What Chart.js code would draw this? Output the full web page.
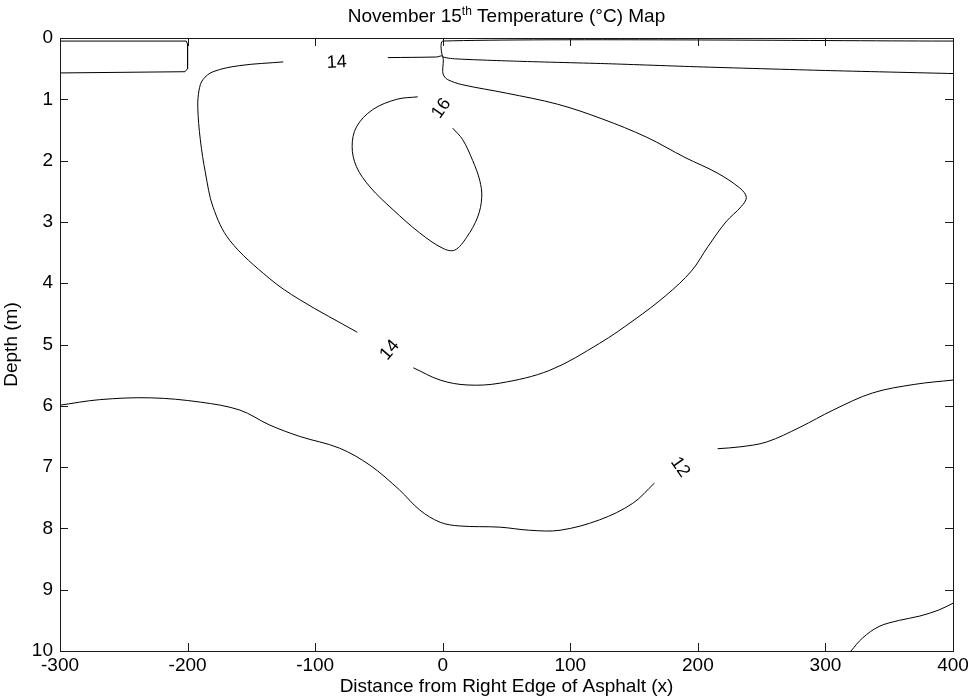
<!DOCTYPE html>
<html>
<head>
<meta charset="utf-8">
<title>November 15th Temperature Map</title>
<script src="https://cdn.jsdelivr.net/npm/chart.js@4.4.1/dist/chart.umd.min.js"></script>
<style>
  html, body { margin: 0; padding: 0; background: #fff; }
  canvas { display: block; }
</style>
</head>
<body>
<canvas id="chart" width="972" height="698"></canvas>
<script>
// contour lines as [distance, depth] pairs
const surfaceBoxLeft = [[-300, 0.05], [-201, 0.05], [-200, 0.1], [-200, 0.5], [-202, 0.55], [-300, 0.57]];
const surfaceBandRight = [[400, 0.05], [0, 0.05], [0, 0.3], [10, 0.34], [60, 0.38], [130, 0.42], [200, 0.47], [300, 0.53], [400, 0.58]];
const iso14Left = [[-125, 0.39], [-159, 0.45], [-180, 0.55], [-188, 0.68], [-191, 0.85], [-192, 1.13], [-190, 1.66],
  [-186, 2.2], [-180, 2.76], [-167, 3.3], [-136, 3.92], [-112, 4.27], [-67, 4.8]];
const iso14Right = [[-23, 5.38], [-2, 5.58], [19, 5.66], [45, 5.63], [84, 5.42], [123, 4.98], [150, 4.6], [175, 4.2],
  [195, 3.8], [208, 3.4], [222, 3.0], [234, 2.75], [238, 2.6], [233, 2.45], [215, 2.2], [190, 1.95], [160, 1.62],
  [125, 1.32], [90, 1.08], [50, 0.9], [15, 0.76], [4, 0.68], [1, 0.62], [0, 0.55], [0, 0.3], [-5, 0.31], [-43, 0.32]];
const iso16 = [[-19.6, 0.96], [-36, 1.0], [-55, 1.17], [-67.6, 1.45], [-71, 1.77], [-67.6, 2.1], [-57, 2.43], [-39, 2.8],
  [-18, 3.18], [0, 3.43], [9.4, 3.46], [18.8, 3.25], [27.4, 2.92], [30.6, 2.6], [29, 2.32], [23.5, 2.0], [15.7, 1.66], [7.8, 1.47]];
const iso12Left = [[-300, 5.99], [-269, 5.9], [-229, 5.87], [-190, 5.94], [-159, 6.07], [-136, 6.31], [-112, 6.5],
  [-81, 6.69], [-57, 6.97], [-34, 7.37], [-18, 7.7], [-2, 7.9], [13, 7.96], [45, 7.98], [68, 8.03], [92, 8.03],
  [123, 7.86], [149, 7.59], [166, 7.26]];
const iso12Right = [[215.5, 6.7], [233, 6.67], [254, 6.59], [280, 6.35], [306, 6.07], [337, 5.79], [370, 5.65], [400, 5.58]];
const iso10 = [[320, 10], [329, 9.79], [342, 9.6], [358, 9.5], [374, 9.43], [389, 9.33], [400, 9.22]];

// inline contour labels: text, distance, depth, rotation (deg)
const contourLabels = [
  ["14", -83, 0.4, -3],
  ["16", -1, 1.15, -55],
  ["14", -41.5, 5.09, -50],
  ["12", 186, 7.0, 55]
];

const xTicks = [-300, -200, -100, 0, 100, 200, 300, 400];
const yTicks = [0, 1, 2, 3, 4, 5, 6, 7, 8, 9, 10];

const fontFamily = "'Liberation Sans', Arial, Helvetica, sans-serif";
const textSize = 19;

function line(points, tension) {
  return {
    data: points.map(p => ({ x: p[0], y: p[1] })),
    showLine: true,
    borderColor: "#000",
    borderWidth: 1,
    pointRadius: 0,
    tension: tension,
    fill: false
  };
}

const datasets = [
  line(surfaceBoxLeft, 0),
  line(surfaceBandRight, 0.2),
  line(iso14Left, 0.35),
  line(iso14Right, 0.35),
  line(iso16, 0.35),
  line(iso12Left, 0.35),
  line(iso12Right, 0.35),
  line(iso10, 0.35)
];

// matlab style box with inward ticks
const boxTicks = {
  id: "boxTicks",
  afterDraw(chart) {
    const { ctx, chartArea: a, scales: { x, y } } = chart;
    ctx.save();
    ctx.strokeStyle = "#1a1a1a";
    ctx.lineWidth = 1;
    ctx.beginPath();
    xTicks.forEach(v => {
      const px = Math.round(x.getPixelForValue(v)) + 0.5;
      ctx.moveTo(px, a.bottom); ctx.lineTo(px, a.bottom - 8);
      ctx.moveTo(px, a.top); ctx.lineTo(px, a.top + 8);
    });
    yTicks.forEach(v => {
      const py = Math.round(y.getPixelForValue(v)) + 0.5;
      ctx.moveTo(a.left, py); ctx.lineTo(a.left + 8, py);
      ctx.moveTo(a.right, py); ctx.lineTo(a.right - 8, py);
    });
    ctx.stroke();
    ctx.strokeRect(Math.round(a.left) + 0.5, Math.round(a.top) + 0.5, Math.round(a.right - a.left), Math.round(a.bottom - a.top));
    ctx.restore();
  }
};

// labels drawn in the gaps of the contour lines
const contourText = {
  id: "contourText",
  afterDatasetsDraw(chart) {
    const { ctx, scales: { x, y } } = chart;
    ctx.save();
    ctx.fillStyle = "#000";
    ctx.font = "18px " + fontFamily;
    ctx.textAlign = "center";
    ctx.textBaseline = "middle";
    contourLabels.forEach(([txt, vx, vy, rot]) => {
      ctx.save();
      ctx.translate(x.getPixelForValue(vx), y.getPixelForValue(vy));
      ctx.rotate(rot * Math.PI / 180);
      ctx.fillText(txt, 0, 0);
      ctx.restore();
    });
    ctx.restore();
  }
};

// title with superscript "th"
const supTitle = {
  id: "supTitle",
  afterDraw(chart) {
    const { ctx, chartArea: a } = chart;
    const parts = [["November 15", textSize, 0], ["th", 12, -7], [" Temperature (\u00B0C) Map", textSize, 0]];
    ctx.save();
    ctx.fillStyle = "#000";
    ctx.textBaseline = "alphabetic";
    let total = 0;
    parts.forEach(p => { ctx.font = p[1] + "px " + fontFamily; total += ctx.measureText(p[0]).width; });
    let cx = (a.left + a.right) / 2 - total / 2;
    parts.forEach(p => {
      ctx.font = p[1] + "px " + fontFamily;
      ctx.fillText(p[0], cx, 22 + p[2]);
      cx += ctx.measureText(p[0]).width;
    });
    ctx.restore();
  }
};

new Chart(document.getElementById("chart"), {
  type: "scatter",
  data: { datasets },
  options: {
    responsive: false,
    animation: false,
    layout: { padding: { top: 38, right: 19, left: 0, bottom: 0 } },
    plugins: {
      legend: { display: false },
      tooltip: { enabled: false },
      title: { display: false }
    },
    scales: {
      x: {
        type: "linear",
        min: -300,
        max: 400,
        afterBuildTicks: s => { s.ticks = xTicks.map(v => ({ value: v })); },
        ticks: { color: "#000", font: { family: fontFamily, size: textSize }, padding: 3, maxRotation: 0, autoSkip: false },
        grid: { display: false, drawTicks: false },
        border: { display: false },
        title: { display: true, text: "Distance from Right Edge of Asphalt (x)", color: "#000",
          font: { family: fontFamily, size: textSize }, padding: { top: 0, bottom: 0 } },
        afterFit: s => { s.height = 47; }
      },
      y: {
        type: "linear",
        reverse: true,
        min: 0,
        max: 10,
        afterBuildTicks: s => { s.ticks = yTicks.map(v => ({ value: v })); },
        ticks: { color: "#000", font: { family: fontFamily, size: textSize }, padding: 7, autoSkip: false },
        grid: { display: false, drawTicks: false },
        border: { display: false },
        title: { display: true, text: "Depth (m)", color: "#000",
          font: { family: fontFamily, size: textSize }, padding: { top: 0, bottom: 0 } },
        afterFit: s => { s.width = 60; }
      }
    }
  },
  plugins: [boxTicks, contourText, supTitle]
});
</script>
</body>
</html>
